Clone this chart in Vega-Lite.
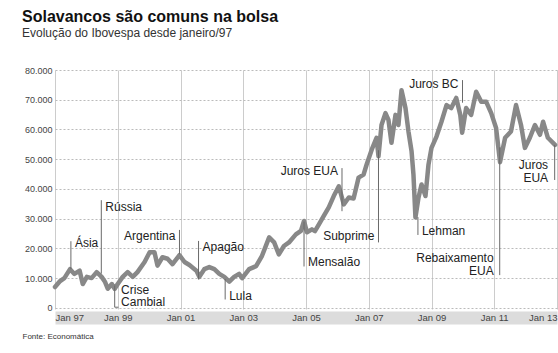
{
  "$schema": "https://vega.github.io/schema/vega-lite/v6.json",
  "width": 502,
  "height": 239,
  "autosize": {"type": "none"},
  "padding": {"left": 55, "top": 70, "right": 1, "bottom": 44},
  "background": "white",
  "title": {
    "text": "Solavancos são comuns na bolsa",
    "subtitle": "Evolução do Ibovespa desde janeiro/97",
    "anchor": "start",
    "frame": "group",
    "dx": -33,
    "offset": 27,
    "font": "Liberation Sans",
    "fontSize": 16,
    "fontWeight": "bold",
    "color": "#111111",
    "subtitleFont": "Liberation Sans",
    "subtitleFontSize": 12,
    "subtitleColor": "#333333",
    "subtitlePadding": 3
  },
  "datasets": {
    "ibov": [
      {"d": "1997-01-01", "v": 7000},
      {"d": "1997-03-01", "v": 9000},
      {"d": "1997-04-20", "v": 10000},
      {"d": "1997-06-25", "v": 13000},
      {"d": "1997-08-15", "v": 11400},
      {"d": "1997-10-15", "v": 12500},
      {"d": "1997-11-20", "v": 8000},
      {"d": "1998-01-07", "v": 10400},
      {"d": "1998-03-03", "v": 10000},
      {"d": "1998-05-01", "v": 12000},
      {"d": "1998-06-28", "v": 10400},
      {"d": "1998-08-05", "v": 8800},
      {"d": "1998-09-07", "v": 6400},
      {"d": "1998-10-25", "v": 8000},
      {"d": "1998-11-27", "v": 6400},
      {"d": "1999-01-01", "v": 8000},
      {"d": "1999-02-28", "v": 10400},
      {"d": "1999-04-27", "v": 12000},
      {"d": "1999-06-25", "v": 10400},
      {"d": "1999-08-19", "v": 12000},
      {"d": "1999-11-10", "v": 15400},
      {"d": "2000-01-08", "v": 18700},
      {"d": "2000-03-04", "v": 18700},
      {"d": "2000-04-08", "v": 14200},
      {"d": "2000-06-05", "v": 17000},
      {"d": "2000-08-03", "v": 16500},
      {"d": "2000-09-30", "v": 14700},
      {"d": "2000-12-20", "v": 17700},
      {"d": "2001-02-17", "v": 15400},
      {"d": "2001-04-15", "v": 14400},
      {"d": "2001-07-05", "v": 12500},
      {"d": "2001-08-08", "v": 10400},
      {"d": "2001-10-05", "v": 13000},
      {"d": "2001-12-02", "v": 13700},
      {"d": "2002-01-30", "v": 13000},
      {"d": "2002-03-29", "v": 11400},
      {"d": "2002-05-26", "v": 10400},
      {"d": "2002-07-23", "v": 8800},
      {"d": "2002-09-17", "v": 10400},
      {"d": "2002-11-14", "v": 11400},
      {"d": "2002-12-20", "v": 10000},
      {"d": "2003-03-11", "v": 13000},
      {"d": "2003-05-31", "v": 14000},
      {"d": "2003-08-08", "v": 17500},
      {"d": "2003-10-30", "v": 23700},
      {"d": "2003-12-27", "v": 22000},
      {"d": "2004-02-20", "v": 18000},
      {"d": "2004-04-19", "v": 20800},
      {"d": "2004-06-17", "v": 22000},
      {"d": "2004-09-05", "v": 24700},
      {"d": "2004-11-03", "v": 25900},
      {"d": "2004-12-09", "v": 29200},
      {"d": "2005-01-12", "v": 25400},
      {"d": "2005-03-11", "v": 26400},
      {"d": "2005-04-15", "v": 25800},
      {"d": "2005-05-30", "v": 28000},
      {"d": "2005-07-27", "v": 30900},
      {"d": "2005-09-23", "v": 33800},
      {"d": "2005-11-20", "v": 37600},
      {"d": "2006-01-18", "v": 40900},
      {"d": "2006-03-17", "v": 34800},
      {"d": "2006-05-14", "v": 37100},
      {"d": "2006-07-09", "v": 36800},
      {"d": "2006-09-05", "v": 43800},
      {"d": "2006-11-02", "v": 44800},
      {"d": "2006-12-08", "v": 48200},
      {"d": "2007-02-05", "v": 53200},
      {"d": "2007-04-02", "v": 57200},
      {"d": "2007-04-25", "v": 51000},
      {"d": "2007-05-30", "v": 61500},
      {"d": "2007-07-15", "v": 65500},
      {"d": "2007-08-19", "v": 63200},
      {"d": "2007-09-23", "v": 55500},
      {"d": "2007-11-09", "v": 64900},
      {"d": "2007-12-13", "v": 61500},
      {"d": "2008-01-18", "v": 73200},
      {"d": "2008-03-04", "v": 67200},
      {"d": "2008-04-08", "v": 59300},
      {"d": "2008-05-14", "v": 52600},
      {"d": "2008-06-05", "v": 44800},
      {"d": "2008-06-28", "v": 30400},
      {"d": "2008-08-03", "v": 37100},
      {"d": "2008-09-07", "v": 41500},
      {"d": "2008-10-23", "v": 37600},
      {"d": "2008-11-27", "v": 48200},
      {"d": "2009-01-01", "v": 53800},
      {"d": "2009-02-28", "v": 57600},
      {"d": "2009-04-27", "v": 62600},
      {"d": "2009-06-25", "v": 68200},
      {"d": "2009-08-19", "v": 67200},
      {"d": "2009-10-16", "v": 70600},
      {"d": "2009-12-02", "v": 64900},
      {"d": "2009-12-24", "v": 58900},
      {"d": "2010-02-08", "v": 67200},
      {"d": "2010-04-08", "v": 64900},
      {"d": "2010-06-05", "v": 72700},
      {"d": "2010-08-03", "v": 69300},
      {"d": "2010-09-30", "v": 69300},
      {"d": "2010-11-27", "v": 65500},
      {"d": "2011-01-23", "v": 60500},
      {"d": "2011-03-10", "v": 49000},
      {"d": "2011-05-08", "v": 57200},
      {"d": "2011-07-15", "v": 59300},
      {"d": "2011-09-12", "v": 68200},
      {"d": "2011-11-09", "v": 61500},
      {"d": "2011-12-24", "v": 53800},
      {"d": "2012-02-20", "v": 57200},
      {"d": "2012-04-19", "v": 61500},
      {"d": "2012-06-17", "v": 58200},
      {"d": "2012-07-23", "v": 62600},
      {"d": "2012-09-17", "v": 57200},
      {"d": "2012-12-09", "v": 54800}
    ],
    "rules": [
      {"d": "1997-07-05", "v": 13000, "v2": 22400},
      {"d": "1998-06-24", "v": 11500, "v2": 36200},
      {"d": "1998-11-27", "v": 200, "v2": 7500},
      {"d": "2000-12-20", "v": 18000, "v2": 26200},
      {"d": "2001-07-30", "v": 9500, "v2": 22500},
      {"d": "2002-06-05", "v": 2800, "v2": 9700},
      {"d": "2004-12-09", "v": 13900, "v2": 29000},
      {"d": "2006-02-24", "v": 32500, "v2": 47000},
      {"d": "2007-04-25", "v": 22000, "v2": 53000},
      {"d": "2008-07-27", "v": 24500, "v2": 30500},
      {"d": "2009-12-28", "v": 69000, "v2": 76600},
      {"d": "2011-03-06", "v": 11000, "v2": 54000},
      {"d": "2012-12-05", "v": 43000, "v2": 54800}
    ],
    "hooks": [
      {"d": "1998-11-27", "d2": "1999-01-10", "v": 200}
    ],
    "labels": [
      {"d": "1997-07-05", "v": 21700, "t": "Ásia", "side": "L"},
      {"d": "1998-06-24", "v": 33800, "t": "Rússia", "side": "L"},
      {"d": "1998-12-25", "v": 6100, "t": "Crise", "side": "L"},
      {"d": "1998-12-25", "v": 1900, "t": "Cambial", "side": "L"},
      {"d": "2000-12-20", "v": 24200, "t": "Argentina", "side": "R"},
      {"d": "2001-07-30", "v": 20300, "t": "Apagão", "side": "L"},
      {"d": "2002-06-05", "v": 4100, "t": "Lula", "side": "L"},
      {"d": "2004-12-09", "v": 15500, "t": "Mensalão", "side": "L"},
      {"d": "2006-02-24", "v": 45900, "t": "Juros EUA", "side": "R"},
      {"d": "2007-04-25", "v": 24300, "t": "Subprime", "side": "R"},
      {"d": "2008-07-27", "v": 25900, "t": "Lehman", "side": "L"},
      {"d": "2009-12-28", "v": 75200, "t": "Juros BC", "side": "R"},
      {"d": "2011-02-10", "v": 16700, "t": "Rebaixamento", "side": "R"},
      {"d": "2011-02-10", "v": 12500, "t": "EUA", "side": "R"},
      {"d": "2012-11-05", "v": 47900, "t": "Juros", "side": "R"},
      {"d": "2012-11-05", "v": 43700, "t": "EUA", "side": "R"}
    ]
  },
  "encoding": {
    "y": {
      "field": "v",
      "type": "quantitative",
      "scale": {"domain": [-400, 80000], "nice": false, "zero": false},
      "axis": {
        "values": [0, 10000, 20000, 30000, 40000, 50000, 60000, 70000, 80000],
        "format": ",d",
        "labelExpr": "datum.value == 0 ? '0' : datum.label",
        "title": null,
        "domain": false,
        "ticks": false,
        "labelPadding": 3,
        "labelOverlap": false,
        "labelFlush": false,
        "labelBound": false,
        "labelFont": "Liberation Sans",
        "labelFontSize": 9,
        "labelColor": "#444444",
        "grid": true,
        "gridColor": "#bbbbbb",
        "gridDash": [2, 2],
        "gridWidth": 1
      }
    }
  },
  "layer": [
    {
      "data": {"name": "ibov"},
      "mark": {"type": "line", "color": "#888888", "strokeWidth": 4.5, "strokeJoin": "round", "strokeCap": "round"},
      "encoding": {
        "x": {
          "field": "d",
          "type": "temporal",
          "scale": {"type": "utc", "domain": [{"year": 1997, "month": 1, "date": 1, "utc": true}, {"year": 2013, "month": 1, "date": 1, "utc": true}]},
          "axis": {
            "orient": "bottom",
            "zindex": 0,
            "values": [
              {"year": 1997, "month": 1, "date": 1, "utc": true},
              {"year": 1999, "month": 1, "date": 1, "utc": true},
              {"year": 2001, "month": 1, "date": 1, "utc": true},
              {"year": 2003, "month": 1, "date": 1, "utc": true},
              {"year": 2005, "month": 1, "date": 1, "utc": true},
              {"year": 2007, "month": 1, "date": 1, "utc": true},
              {"year": 2009, "month": 1, "date": 1, "utc": true},
              {"year": 2011, "month": 1, "date": 1, "utc": true},
              {"year": 2013, "month": 1, "date": 1, "utc": true}
            ],
            "grid": true,
            "gridColor": "#cccccc",
            "gridWidth": 1,
            "domain": true,
            "domainColor": "#dcdcdc",
            "domainWidth": 13,
            "offset": 8.5,
            "ticks": false,
            "labels": false,
            "title": "Fonte: Economática",
            "titleAnchor": "start",
            "titleAlign": "left",
            "titleBaseline": "middle",
            "titleX": -33,
            "titleY": 18.5,
            "titleFont": "Liberation Sans",
            "titleFontSize": 8,
            "titleFontWeight": "normal",
            "titleColor": "#333333"
          }
        }
      }
    },
    {
      "data": {"name": "rules"},
      "mark": {"type": "rule", "color": "#6a6a6a", "strokeWidth": 1},
      "encoding": {
        "x": {"field": "d", "type": "temporal", "axis": null},
        "y2": {"field": "v2"}
      }
    },
    {
      "data": {"name": "hooks"},
      "mark": {"type": "rule", "color": "#6a6a6a", "strokeWidth": 1},
      "encoding": {
        "x": {"field": "d", "type": "temporal", "axis": null},
        "x2": {"field": "d2"}
      }
    },
    {
      "data": {"name": "labels"},
      "transform": [{"filter": "datum.side === 'L'"}],
      "mark": {"type": "text", "align": "left", "baseline": "middle", "dx": 4, "font": "Liberation Sans", "fontSize": 12, "color": "#222222"},
      "encoding": {
        "x": {
          "field": "d",
          "type": "temporal",
          "axis": {
            "orient": "bottom",
            "zindex": 1,
            "values": [
              {"year": 1997, "month": 1, "date": 1, "utc": true},
              {"year": 1999, "month": 1, "date": 1, "utc": true},
              {"year": 2001, "month": 1, "date": 1, "utc": true},
              {"year": 2003, "month": 1, "date": 1, "utc": true},
              {"year": 2005, "month": 1, "date": 1, "utc": true},
              {"year": 2007, "month": 1, "date": 1, "utc": true},
              {"year": 2009, "month": 1, "date": 1, "utc": true},
              {"year": 2011, "month": 1, "date": 1, "utc": true},
              {"year": 2013, "month": 1, "date": 1, "utc": true}
            ],
            "format": "%b %y",
            "grid": false,
            "domain": false,
            "offset": 8.5,
            "ticks": false,
            "tickSize": 0,
            "labelPadding": 0,
            "labelBaseline": "middle",
            "labelFont": "Liberation Sans",
            "labelFontSize": 9.5,
            "labelColor": "#444444",
            "labelFlush": true,
            "labelOverlap": false,
            "title": null
          }
        },
        "text": {"field": "t"}
      }
    },
    {
      "data": {"name": "labels"},
      "transform": [{"filter": "datum.side === 'R'"}],
      "mark": {"type": "text", "align": "right", "baseline": "middle", "dx": -4, "font": "Liberation Sans", "fontSize": 12, "color": "#222222"},
      "encoding": {
        "x": {"field": "d", "type": "temporal", "axis": null},
        "text": {"field": "t"}
      }
    }
  ],
  "resolve": {"axis": {"x": "independent"}},
  "config": {
    "locale": {
      "number": {"decimal": ",", "thousands": ".", "grouping": [3], "currency": ["R$", ""]}
    },
    "view": {"stroke": null}
  }
}
